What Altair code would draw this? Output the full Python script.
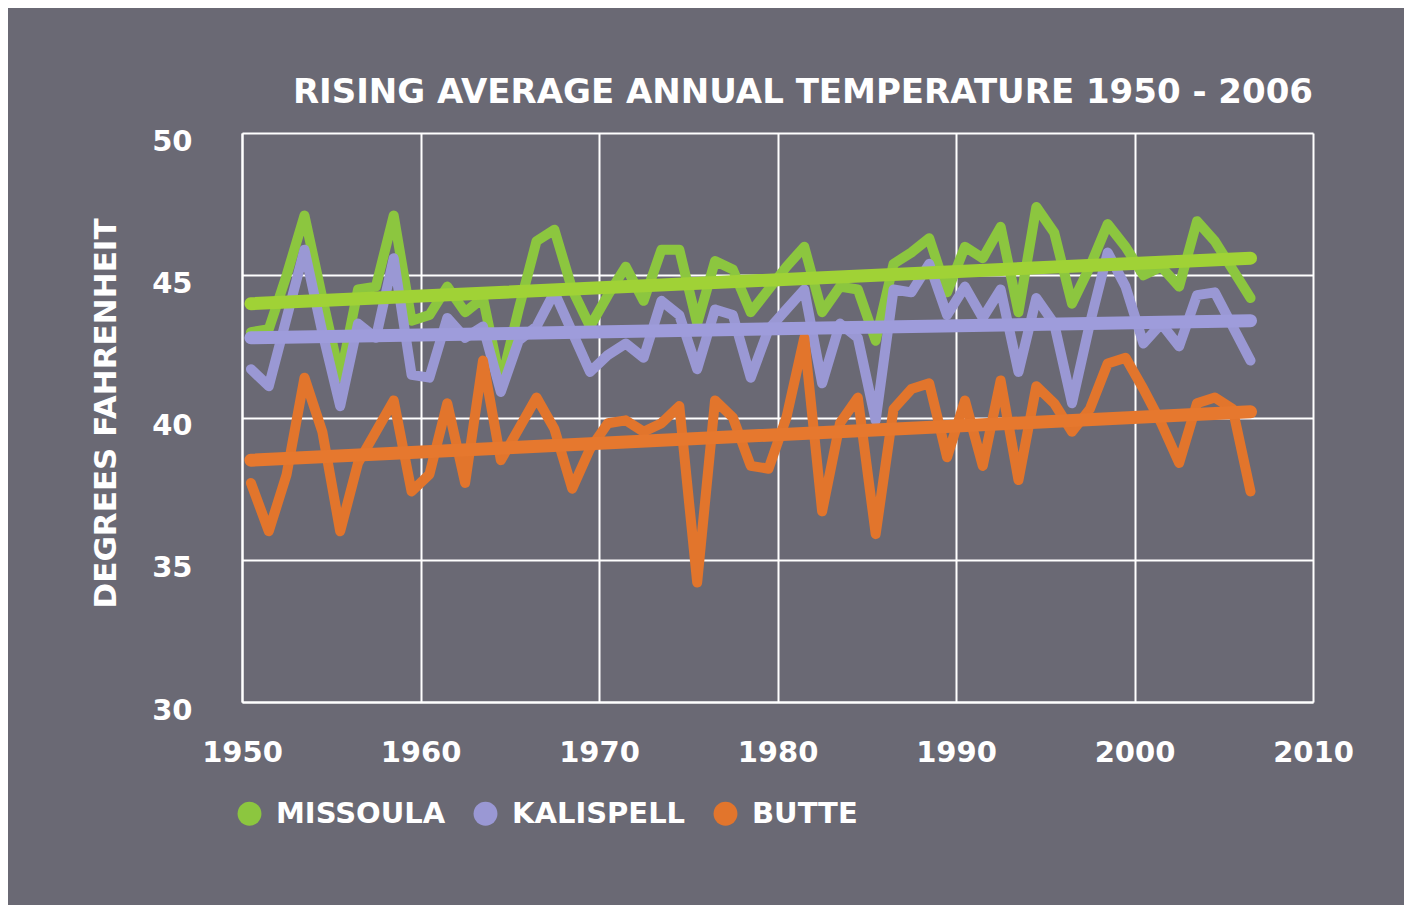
import altair as alt
import pandas as pd

years = list(range(1950, 2007))
missoula = [43.0, 43.1, 45.0, 47.1, 44.2, 41.4, 44.5, 44.6, 47.1, 43.4,
            43.6, 44.6, 43.7, 44.2, 41.2, 43.8, 46.2, 46.6, 44.5, 43.2,
            44.3, 45.3, 44.1, 45.9, 45.9, 43.3, 45.5, 45.2, 43.7, 44.5,
            45.3, 46.0, 43.7, 44.6, 44.5, 42.7, 45.4, 45.8, 46.3, 44.4,
            46.0, 45.6, 46.7, 43.7, 47.4, 46.5, 44.0, 45.3, 46.8, 46.0,
            45.0, 45.3, 44.6, 46.9, 46.2, 45.2, 44.2]
kalispell = [41.7, 41.1, 43.5, 45.9, 43.0, 40.4, 43.3, 42.8, 45.6, 41.5,
             41.4, 43.5, 42.8, 43.2, 40.9, 42.7, 43.2, 44.4, 43.0, 41.6,
             42.2, 42.6, 42.1, 44.1, 43.6, 41.7, 43.8, 43.6, 41.4, 43.1,
             43.8, 44.5, 41.2, 43.3, 42.8, 39.9, 44.5, 44.4, 45.4, 43.6,
             44.6, 43.5, 44.5, 41.6, 44.2, 43.3, 40.5, 43.3, 45.8, 44.6,
             42.6, 43.3, 42.5, 44.3, 44.4, 43.2, 42.0]
butte = [37.7, 36.0, 38.0, 41.4, 39.5, 36.0, 38.4, 39.5, 40.6, 37.4,
         38.0, 40.5, 37.7, 42.0, 38.5, 39.6, 40.7, 39.6, 37.5, 38.9,
         39.8, 39.9, 39.5, 39.8, 40.4, 34.2, 40.6, 40.0, 38.3, 38.2,
         40.0, 42.8, 36.7, 39.8, 40.7, 35.9, 40.3, 41.0, 41.2, 38.6,
         40.6, 38.3, 41.3, 37.8, 41.1, 40.5, 39.5, 40.3, 41.9, 42.1,
         41.0, 39.8, 38.4, 40.5, 40.7, 40.3, 37.4]

cities = ["MISSOULA", "KALISPELL", "BUTTE"]
colors = ["#8cc63f", "#9a98d4", "#e2752c"]
trend_colors = ["#a0d236", "#9e9cdb", "#e6782e"]
trend_years = [1950, 2006]
trend_missoula = [44.0, 45.6]
trend_kalispell = [42.8, 43.4]
trend_butte = [38.5, 40.2]

x_ticks = [1950, 1960, 1970, 1980, 1990, 2000, 2010]
y_ticks = [30, 35, 40, 45, 50]

rows = []
for c, vals in zip(cities, [missoula, kalispell, butte]):
    for yr, v in zip(years, vals):
        rows.append({"year": yr, "temp": v, "city": c})
df = pd.DataFrame(rows)

trows = []
for c, tc, vals in zip(cities, trend_colors, [trend_missoula, trend_kalispell, trend_butte]):
    for yr, v in zip(trend_years, vals):
        trows.append({"year": yr, "temp": v, "city": c, "tcolor": tc})
tdf = pd.DataFrame(trows)

FONT = "DejaVu Sans"

x_axis = alt.Axis(values=x_ticks, format="d", title=None, labelFlush=False,
                  labelPadding=36, grid=True)
y_axis = alt.Axis(values=y_ticks, title="DEGREES FAHRENHEIT", labelPadding=50,
                  labelOffset=8, titleX=-136, titleY=280, titleAngle=270,
                  titleAlign="center", titleBaseline="middle", grid=True)

x_enc = alt.X("xpos:Q", scale=alt.Scale(domain=[1950, 2010], nice=False, zero=False), axis=x_axis)
y_enc = alt.Y("temp:Q", scale=alt.Scale(domain=[30, 50], nice=False, zero=False), axis=y_axis)

# small points hidden beneath the lines; they carry the filled-circle legend
legend_pts = alt.Chart(df).transform_calculate(xpos="datum.year + 0.5").mark_circle(
    opacity=1
).encode(
    x=x_enc,
    y=y_enc,
    fill=alt.Fill(
        "city:N",
        scale=alt.Scale(domain=cities, range=colors),
        legend=alt.Legend(
            orient="none", legendX=-7, legendY=666, direction="horizontal",
            title=None, symbolType="circle", symbolSize=570, symbolStrokeWidth=0,
            symbolOpacity=1, labelLimit=0,
            labelFont=FONT, labelFontSize=29, labelFontWeight="bold",
            labelColor="white", labelOffset=12, columnPadding=25, padding=0,
        ),
    ),
)

lines = alt.Chart(df).transform_calculate(xpos="datum.year + 0.5").mark_line(
    strokeWidth=10, strokeJoin="round", strokeCap="round"
).encode(
    x=x_enc,
    y=y_enc,
    stroke=alt.Stroke("city:N", scale=alt.Scale(domain=cities, range=colors), legend=None),
)

trends = alt.Chart(tdf).transform_calculate(xpos="datum.year + 0.5").mark_line(
    strokeWidth=13, strokeCap="round"
).encode(
    x=x_enc,
    y=y_enc,
    color=alt.Color("tcolor:N", scale=None),
    detail="city:N",
)

chart = alt.layer(legend_pts, lines, trends).properties(
    width=1071,
    height=569,
    autosize=alt.AutoSizeParams(type="none"),
    padding={"left": 234, "top": 125, "right": 91, "bottom": 203},
    background="#6a6974",
    title=alt.TitleParams(
        "RISING AVERAGE ANNUAL TEMPERATURE 1950 - 2006",
        anchor="end", frame="group", font=FONT, fontSize=34, fontWeight="bold",
        color="white", offset=17,
    ),
).configure_view(stroke=None).configure_axis(
    gridColor="white", gridWidth=2, gridOpacity=1,
    domainColor="white", domainWidth=2, ticks=False,
    labelColor="white", labelFont=FONT, labelFontSize=29, labelFontWeight="bold",
    titleColor="white", titleFont=FONT, titleFontSize=31, titleFontWeight="bold",
)

chart.save("out.html", embed_options={"renderer": "svg", "actions": False})
